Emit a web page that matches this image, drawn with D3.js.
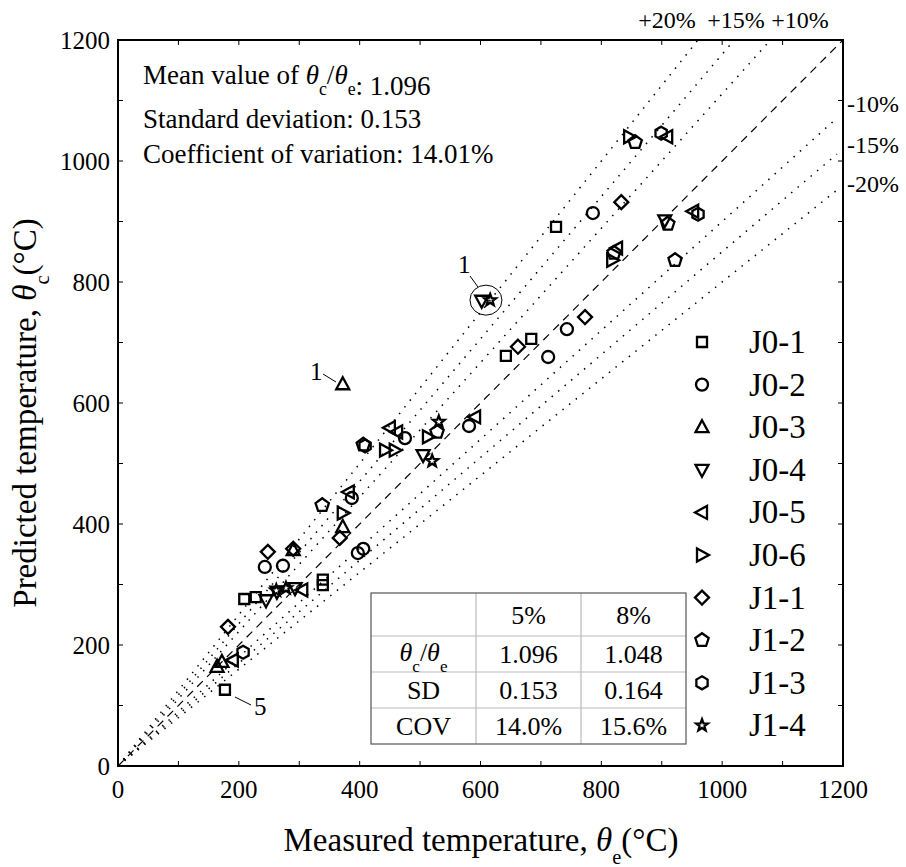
<!DOCTYPE html>
<html>
<head>
<meta charset="utf-8">
<script src="https://cdn.jsdelivr.net/npm/d3@7"></script>
<style>
  body { margin: 0; background: #fff; }
  svg { font-family: "Liberation Serif", "Times New Roman", serif; }
</style>
</head>
<body>
<svg id="chart" width="906" height="867"></svg>
<script>
// ---- data ----
const seriesNames = ["J0-1", "J0-2", "J0-3", "J0-4", "J0-5", "J0-6", "J1-1", "J1-2", "J1-3", "J1-4"];
const seriesShapes = ["square", "circle", "up", "down", "left", "right", "diamond", "pentagon", "hexagon", "star"];

// [measured, predicted]
const j01 = [[725, 891], [684, 706], [642, 678], [339, 308], [339, 299], [209, 276], [228, 279], [177, 126]];
const j02 = [[786, 914], [743, 722], [712, 676], [581, 562], [475, 542], [387, 443], [397, 352], [406, 359], [243, 329], [273, 331]];
const j03 = [[372, 631], [372, 395], [290, 357], [164, 164], [172, 172]];
const j04 = [[602, 769], [505, 514], [905, 902], [245, 274], [263, 288], [293, 294]];
const j05 = [[909, 1040], [952, 917], [826, 856], [591, 577], [462, 552], [450, 559], [382, 453], [190, 175], [305, 291]];
const j06 = [[846, 1040], [818, 836], [513, 544], [442, 522], [458, 522], [372, 418]];
const j11 = [[833, 932], [773, 742], [662, 693], [367, 377], [248, 354], [290, 359], [182, 230]];
const j12 = [[856, 1031], [910, 896], [922, 836], [821, 848], [528, 552], [406, 531], [338, 431]];
const j13 = [[899, 1046], [960, 912], [409, 529], [207, 188]];
const j14 = [[616, 770], [531, 569], [520, 504], [262, 290], [278, 294]];
const seriesData = [j01, j02, j03, j04, j05, j06, j11, j12, j13, j14];

const deviations = [0.10, 0.15, 0.20];
const tickValues = [0, 200, 400, 600, 800, 1000, 1200];
const tableHeader = ["", "5%", "8%"];
const tableRows = [["ratio", "1.096", "1.048"], ["SD", "0.153", "0.164"], ["COV", "14.0%", "15.6%"]];

// ---- layout ----
const svg = d3.select("#chart");
const L = 118, R = 843, T = 40, B = 766;
const x = d3.scaleLinear().domain([0, 1200]).range([L, R]);
const y = d3.scaleLinear().domain([0, 1200]).range([B, T]);

// reference lines
const line = d3.line().x(d => x(d[0])).y(d => y(d[1]));
svg.append("path").attr("d", line([[0, 0], [1200, 1200]]))
    .attr("fill", "none").attr("stroke", "#000").attr("stroke-width", 1.2)
    .attr("stroke-dasharray", "8,6");
deviations.forEach(p => {
    svg.append("path").attr("d", line([[0, 0], [1200 * (1 - p), 1200]]))
        .attr("fill", "none").attr("stroke", "#000").attr("stroke-width", 1.5)
        .attr("stroke-dasharray", "1.5,7");
    svg.append("path").attr("d", line([[0, 0], [1190, 1190 * (1 - p)]]))
        .attr("fill", "none").attr("stroke", "#000").attr("stroke-width", 1.5)
        .attr("stroke-dasharray", "1.5,7");
});

// frame + ticks (inward on all sides)
svg.append("rect").attr("x", L).attr("y", T).attr("width", R - L).attr("height", B - T)
    .attr("fill", "none").attr("stroke", "#000").attr("stroke-width", 2);
const minor = d3.range(0, 1201, 100);
const tk = svg.append("g").attr("stroke", "#000").attr("stroke-width", 1);
minor.forEach(v => {
    tk.append("line").attr("x1", x(v)).attr("x2", x(v)).attr("y1", B).attr("y2", B - 5);
    tk.append("line").attr("x1", x(v)).attr("x2", x(v)).attr("y1", T).attr("y2", T + 5);
    tk.append("line").attr("y1", y(v)).attr("y2", y(v)).attr("x1", L).attr("x2", L + 5);
    tk.append("line").attr("y1", y(v)).attr("y2", y(v)).attr("x1", R).attr("x2", R - 5);
});
tickValues.forEach(v => {
    svg.append("text").attr("x", x(v)).attr("y", B + 32).attr("text-anchor", "middle")
        .attr("font-size", 25).text(v);
    svg.append("text").attr("x", L - 8).attr("y", y(v) + 9).attr("text-anchor", "end")
        .attr("font-size", 25).text(v);
});

// axis titles
function thetaLabel(sel, pre, sub, fs) {
    sel.append("tspan").text(pre);
    sel.append("tspan").attr("font-style", "italic").text("θ");
    sel.append("tspan").attr("font-size", fs * 0.62).attr("dy", fs * 0.4).text(sub);
    sel.append("tspan").attr("dy", -fs * 0.4).text("(°C)");
}
const xt = svg.append("text").attr("x", 481).attr("y", 851).attr("text-anchor", "middle").attr("font-size", 33);
thetaLabel(xt, "Measured temperature, ", "e", 33);
const yt = svg.append("text").attr("transform", "translate(36,413) rotate(-90)")
    .attr("text-anchor", "middle").attr("font-size", 33);
thetaLabel(yt, "Predicted temperature, ", "c", 33);

// stats text
function ratio(sel, fs) {
    sel.append("tspan").attr("font-style", "italic").text("θ");
    sel.append("tspan").attr("font-size", fs * 0.66).attr("dy", fs * 0.42).text("c");
    sel.append("tspan").attr("dy", -fs * 0.42).text("/");
    sel.append("tspan").attr("font-style", "italic").text("θ");
    sel.append("tspan").attr("font-size", fs * 0.66).attr("dy", fs * 0.42).text("e");
    sel.append("tspan").attr("dy", -fs * 0.42).text("");
}
const s1 = svg.append("text").attr("x", 143).attr("y", 84).attr("font-size", 27);
s1.append("tspan").text("Mean value of ");
ratio(s1, 27);
s1.append("tspan").text(": 1.096");
svg.append("text").attr("x", 143).attr("y", 128).attr("font-size", 27).text("Standard deviation: 0.153");
svg.append("text").attr("x", 143).attr("y", 163).attr("font-size", 27).text("Coefficient of variation: 14.01%");

// deviation labels
[["+20%", 667], ["+15%", 736], ["+10%", 800]].forEach(d => {
    svg.append("text").attr("x", d[1]).attr("y", 28).attr("text-anchor", "middle").attr("font-size", 24).text(d[0]);
});
[["-10%", 112], ["-15%", 153], ["-20%", 192]].forEach(d => {
    svg.append("text").attr("x", 847).attr("y", d[1]).attr("font-size", 24).text(d[0]);
});

// markers
function shapePath(type) {
    const poly = pts => "M" + pts.map(p => p.join(",")).join("L") + "Z";
    const reg = (n, r, rot) => d3.range(n).map(i => {
        const a = rot + i * 2 * Math.PI / n;
        return [r * Math.sin(a), -r * Math.cos(a)];
    });
    switch (type) {
        case "square": return poly([[-5, -5], [5, -5], [5, 5], [-5, 5]]);
        case "circle": return "M6,0A6,6 0 1,1 -6,0A6,6 0 1,1 6,0Z";
        case "up": return poly([[0, -7], [6.5, 5], [-6.5, 5]]);
        case "down": return poly([[0, 7], [6.5, -5], [-6.5, -5]]);
        case "left": return poly([[-7, 0], [5, -6.5], [5, 6.5]]);
        case "right": return poly([[7, 0], [-5, -6.5], [-5, 6.5]]);
        case "diamond": return poly([[0, -7], [7, 0], [0, 7], [-7, 0]]);
        case "pentagon": return poly(reg(5, 7, 0));
        case "hexagon": return poly(reg(6, 6.5, 0));
        case "star": {
            const pts = d3.range(10).map(i => {
                const r = i % 2 ? 2.6 : 6.2, a = i * Math.PI / 5;
                return [r * Math.sin(a), -r * Math.cos(a)];
            });
            return poly(pts);
        }
    }
}
const marks = svg.append("g");
seriesData.forEach((pts, i) => {
    marks.selectAll(null).data(pts).enter().append("path")
        .attr("transform", d => `translate(${x(d[0])},${y(d[1])})`)
        .attr("d", shapePath(seriesShapes[i]))
        .attr("fill", "none").attr("stroke", "#000").attr("stroke-width", 2.3)
        .attr("stroke-linejoin", "miter");
});

// annotations
svg.append("ellipse").attr("cx", x(609)).attr("cy", y(770)).attr("rx", 16).attr("ry", 15)
    .attr("fill", "none").attr("stroke", "#000").attr("stroke-width", 1);
svg.append("line").attr("x1", 470).attr("y1", 276).attr("x2", 478).attr("y2", 287).attr("stroke", "#000");
svg.append("text").attr("x", 458).attr("y", 273).attr("font-size", 25).text("1");
svg.append("line").attr("x1", 323).attr("y1", 374).attr("x2", 336).attr("y2", 382).attr("stroke", "#000");
svg.append("text").attr("x", 310).attr("y", 380).attr("font-size", 25).text("1");
svg.append("line").attr("x1", 235).attr("y1", 697).attr("x2", 251).attr("y2", 705).attr("stroke", "#000");
svg.append("text").attr("x", 254).attr("y", 715).attr("font-size", 25).text("5");

// legend
const lg = svg.append("g");
seriesNames.forEach((n, i) => {
    const ly = 342 + i * 42.6;
    lg.append("path").attr("transform", `translate(702,${ly})`).attr("d", shapePath(seriesShapes[i]))
        .attr("fill", "none").attr("stroke", "#000").attr("stroke-width", 2.3);
    lg.append("text").attr("x", 749).attr("y", ly + 11).attr("font-size", 33).text(n);
});

// table
const tx = [371, 476, 581, 686], ty = [593, 636, 672, 708, 744];
const tb = svg.append("g");
tx.slice(1, 3).forEach(v => tb.append("line").attr("x1", v).attr("x2", v).attr("y1", ty[0]).attr("y2", ty[4]).attr("stroke", "#bbb").attr("stroke-width", 1.2));
ty.slice(1, 4).forEach(v => tb.append("line").attr("y1", v).attr("y2", v).attr("x1", tx[0]).attr("x2", tx[3]).attr("stroke", "#bbb").attr("stroke-width", 1.2));
tb.append("rect").attr("x", tx[0]).attr("y", ty[0]).attr("width", tx[3] - tx[0]).attr("height", ty[4] - ty[0])
    .attr("fill", "none").attr("stroke", "#555").attr("stroke-width", 1.2);
[tableHeader].concat(tableRows).forEach((row, r) => {
    row.forEach((c, k) => {
        const t = tb.append("text").attr("x", (tx[k] + tx[k + 1]) / 2).attr("y", (ty[r] + ty[r + 1]) / 2 + 9)
            .attr("text-anchor", "middle").attr("font-size", 26);
        if (c === "ratio") { t.attr("y", (ty[r] + ty[r + 1]) / 2 + 7); ratio(t, 26); }
        else t.text(c);
    });
});
</script>
</body>
</html>
